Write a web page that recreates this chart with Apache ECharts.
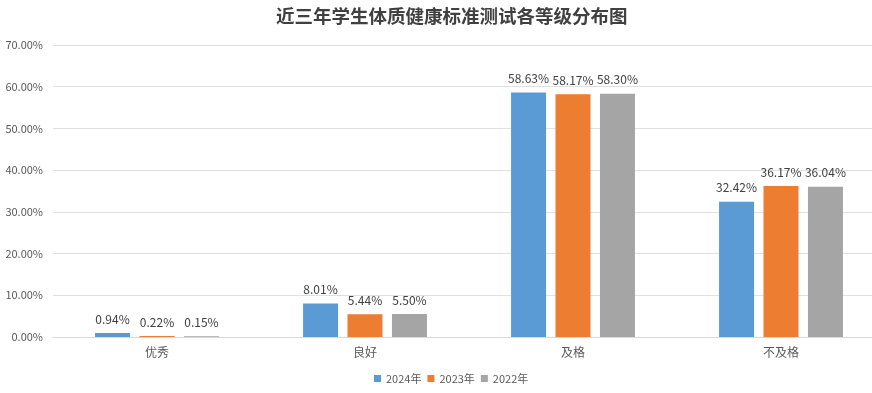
<!DOCTYPE html>
<html><head><meta charset="utf-8">
<script src="https://cdn.jsdelivr.net/npm/echarts@6/dist/echarts.min.js"></script>
<style>html,body{margin:0;padding:0;background:#fff;overflow:hidden}#c{width:872px;height:393px}</style>
</head><body><div id="c"></div>
<script>
const categories = ['优秀', '良好', '及格', '不及格'];
const seriesNames = ['2024年', '2023年', '2022年'];
const v2024 = [0.94, 8.01, 58.63, 32.42];
const v2023 = [0.22, 5.44, 58.17, 36.17];
const v2022 = [0.15, 5.50, 58.30, 36.04];
const colors = ['#5B9BD5', '#ED7D31', '#A5A5A5'];
const font = '"Microsoft YaHei","Noto Sans CJK SC",sans-serif';
const chart = echarts.init(document.getElementById('c'));
const mk = (name, data, i) => ({
  name, type: 'bar', data, barWidth: 35, barGap: '27%',
  itemStyle: { color: colors[i] },
  label: { show: true, position: 'top', distance: 8, color: '#404040', fontSize: 12, fontFamily: font,
    formatter: p => p.value.toFixed(2) + '%' }
});
chart.setOption({
  animation: false,
  title: { text: '近三年学生体质健康标准测试各等级分布图', left: 271, top: 2,
    textStyle: { fontSize: 18.5, fontWeight: 'bold', color: '#404040', fontFamily: font } },
  legend: { left: 369, bottom: 4, itemWidth: 7, itemHeight: 7, itemGap: 6, icon: 'rect',
    textStyle: { color: '#595959', fontSize: 11, fontFamily: font } },
  grid: { left: 53, right: -13, top: 45, bottom: 56, outerBoundsMode: 'none', containLabel: false },
  xAxis: { type: 'category', data: categories,
    axisLine: { lineStyle: { color: '#D9D9D9' } }, axisTick: { show: false },
    axisLabel: { color: '#595959', fontSize: 12, fontFamily: font, margin: 9 } },
  yAxis: { type: 'value', min: 0, max: 70, interval: 10,
    axisLabel: { color: '#595959', fontSize: 11, fontFamily: font, margin: 10, formatter: v => v.toFixed(2) + '%' },
    splitLine: { lineStyle: { color: '#E0E0E0' } } },
  series: [mk(seriesNames[0], v2024, 0), mk(seriesNames[1], v2023, 1), mk(seriesNames[2], v2022, 2)]
});
</script></body></html>
